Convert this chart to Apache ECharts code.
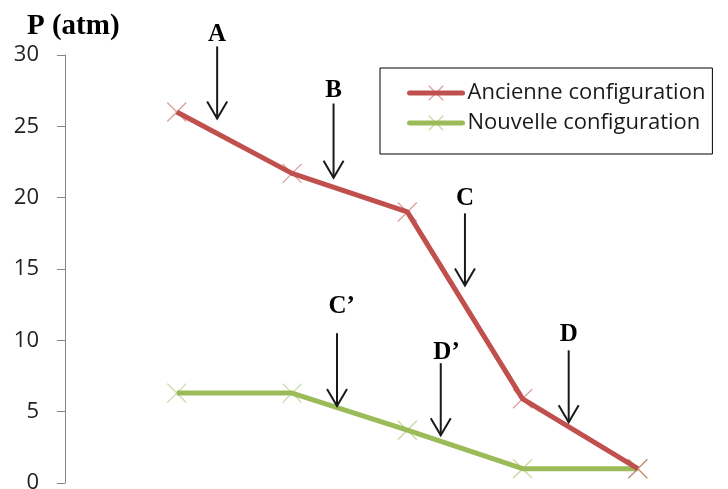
<!DOCTYPE html>
<html>
<head>
<meta charset="utf-8">
<script src="https://cdn.jsdelivr.net/npm/echarts@6/dist/echarts.min.js"></script>
<style>
  html, body { margin: 0; padding: 0; background: #fff; }
  #chart { width: 728px; height: 489px; }
</style>
</head>
<body>
<div id="chart"></div>
<script>
// Pressure along the circuit, points 1..5
const positions = [1, 2, 3, 4, 5];
const ancienne = [26, 21.7, 19, 5.9, 1];
const nouvelle = [6.3, 6.3, 3.7, 1, 1];
const seriesNames = ['Ancienne configuration', 'Nouvelle configuration'];
const yTicks = [0, 5, 10, 15, 20, 25, 30];

// Arrow call-outs (position on the x scale, top and tip pressure, label anchor)
const arrowLabels = ['A', 'B', 'C', 'D', 'C\u2019', 'D\u2019'];
const arrowX = [1.35, 2.36, 3.5, 4.4, 2.39, 3.29];
const arrowTop = [30.6, 26.6, 18.9, 9.3, 10.5, 8.4];
const arrowTip = [25.55, 21.4, 13.85, 4.25, 5.4, 3.35];
const labelX = [1.35, 2.36, 3.5, 4.4, 2.43, 3.34];
const labelY = [31.45, 27.5, 19.95, 10.4, 12.4, 9.15];

const pairs = vals => positions.map((x, i) => [x, vals[i]]);
const arrowData = arrowX.map((x, i) => [x, arrowTop[i], arrowTip[i], labelX[i], labelY[i]]);

const crossSymbol = 'path://M0,0L10,10M10,0L0,10';

function renderArrow(params, api) {
  const i = params.dataIndex;
  const top = api.coord([api.value(0), api.value(1)]);
  const tip = api.coord([api.value(0), api.value(2)]);
  const lab = api.coord([api.value(3), api.value(4)]);
  const ink = '#1a1a1a';
  return {
    type: 'group',
    children: [
      { type: 'line', shape: { x1: top[0], y1: top[1], x2: tip[0], y2: tip[1] },
        style: { stroke: ink, lineWidth: 2 } },
      { type: 'polyline',
        shape: { points: [[tip[0] - 10, tip[1] - 17], [tip[0], tip[1]], [tip[0] + 10, tip[1] - 17]] },
        style: { stroke: ink, lineWidth: 2, fill: null } },
      { type: 'text', x: lab[0], y: lab[1],
        style: { text: arrowLabels[i], font: 'bold 25px "Liberation Serif"', fill: '#000',
                 align: 'center', verticalAlign: 'middle' } }
    ]
  };
}

const chart = echarts.init(document.getElementById('chart'), null, { renderer: 'canvas' });
chart.setOption({
  animation: false,
  backgroundColor: '#fff',
  title: {
    text: 'P (atm)',
    left: 27, top: 12, padding: 0,
    textStyle: { fontFamily: 'Liberation Serif', fontWeight: 'bold', fontSize: 29, color: '#000' }
  },
  legend: {
    data: seriesNames,
    orient: 'vertical',
    left: 380, top: 68,
    padding: [14, 7, 20, 27],
    itemGap: 8,
    itemWidth: 53, itemHeight: 18,
    itemStyle: { borderWidth: 1.3 },
    borderColor: '#000', borderWidth: 1, borderRadius: 0,
    backgroundColor: '#fff',
    lineStyle: { width: 5, cap: 'round' },
    textStyle: { fontFamily: 'Open Sans', fontSize: 22, color: '#1a1a1a', lineHeight: 22 }
  },
  grid: { left: 65, right: 21, top: 55, bottom: 6, containLabel: false, outerBoundsMode: 'none' },
  xAxis: { type: 'value', min: 0.03, max: 5.6, show: false },
  yAxis: {
    type: 'value', min: yTicks[0], max: yTicks[yTicks.length - 1], interval: 5,
    axisLine: { show: true, lineStyle: { color: '#868686', width: 1 } },
    axisTick: { show: true, length: 8, lineStyle: { color: '#868686' } },
    splitLine: { show: false },
    axisLabel: { margin: 26, fontFamily: 'Open Sans', fontSize: 22, color: '#222' }
  },
  series: [
    {
      name: seriesNames[0], type: 'line', data: pairs(ancienne),
      symbol: crossSymbol, symbolSize: 19, showAllSymbol: true,
      lineStyle: { color: '#C0504D', width: 5 },
      itemStyle: { color: 'rgba(0,0,0,0)', borderColor: 'rgba(192,80,77,0.55)', borderWidth: 1.3 },
      z: 3
    },
    {
      name: seriesNames[1], type: 'line', data: pairs(nouvelle),
      symbol: crossSymbol, symbolSize: 19, showAllSymbol: true,
      lineStyle: { color: '#9BBB59', width: 5 },
      itemStyle: { color: 'rgba(0,0,0,0)', borderColor: 'rgba(155,187,89,0.55)', borderWidth: 1.3 },
      z: 2
    },
    {
      name: 'fleches', type: 'custom', data: arrowData,
      renderItem: renderArrow, clip: false, silent: true, z: 4
    }
  ]
});
</script>
</body>
</html>
